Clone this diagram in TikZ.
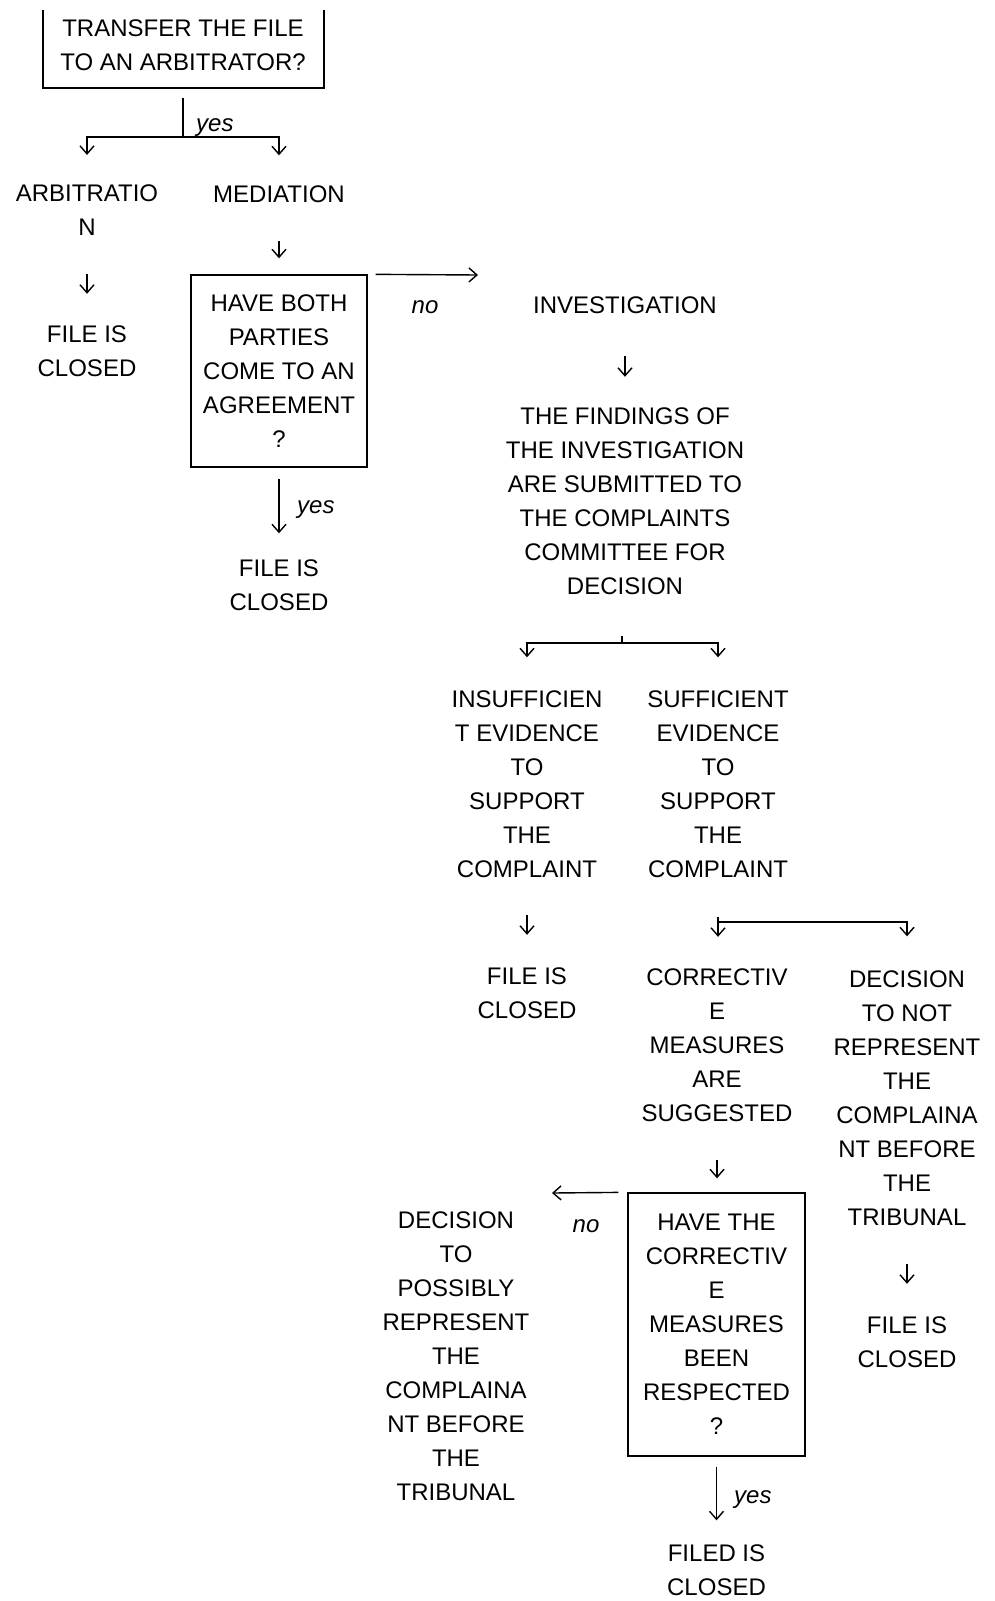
\documentclass[tikz,border=0pt]{standalone}
\usepackage{fontspec}
\setmainfont{Liberation Sans}
\usetikzlibrary{arrows.meta,calc}
\begin{document}
\begin{tikzpicture}[x=1pt,y=-1pt,
  txt/.style={inner sep=0pt, align=center, font=\fontsize{24}{34}\selectfont},
  lbl/.style={inner sep=0pt, font=\fontsize{24}{34}\selectfont\itshape},
  boxq/.style={txt, draw, line width=1.4pt},
  boxline/.style={line width=1.4pt},
  plain/.style={line width=1.4pt},
  arr/.style={line width=1.4pt, -{Straight Barb[length=8pt,width=14pt]}},
]
\useasboundingbox (0,0) rectangle (994,1601);

% top question (box top is outside the scan)
\node[txt] (q1) at (183,45) {TRANSFER THE FILE\\TO AN ARBITRATOR?};
\draw[boxline] (43,10) |- (324,88) -- (324,10);

\node[txt] (arb) at (87,210.5) {ARBITRATIO\\N};
\node[txt] (med) at (279,194) {MEDIATION};
\coordinate (j1) at (183,137);
\draw[plain, shorten <=27pt] (q1.south) -- (j1);
\draw[arr, shorten >=30pt] (j1) -| (arb.north);
\draw[arr, shorten >=30pt] (j1) -| (med.north);
\node[lbl, anchor=base west] (yes1) at (196,131) {yes};

\node[txt] (fc1) at (87,351.5) {FILE IS\\CLOSED};
\draw[arr, shorten <=38pt, shorten >=32pt] (arb.south) -- (fc1.north);

\node[boxq, minimum width=176pt, minimum height=192pt] (q2) at (279,371) {HAVE BOTH\\PARTIES\\COME TO AN\\AGREEMENT\\?};
\draw[arr, shorten <=47pt, shorten >=16pt] (med.center) -- (q2.north);

\coordinate (e1) at (478,275);
\draw[arr, shorten <=8pt] (q2.north east) -- (e1);
\node[lbl, anchor=base] (no1) at (425,313) {no};

\node[txt] (fc1b) at (279,585) {FILE IS\\CLOSED};
\draw[arr, shorten <=11pt, shorten >=26pt] (q2.south) -- (fc1b.north);
\node[lbl, anchor=base west] (yes2) at (297,513) {yes};

\node[txt] (inv) at (625,305) {INVESTIGATION};
\node[txt] (find) at (625,501.5) {THE FINDINGS OF\\THE INVESTIGATION\\ARE SUBMITTED TO\\THE COMPLAINTS\\COMMITTEE FOR\\DECISION};
\draw[arr, shorten <=51pt, shorten >=31pt] (inv.center) -- (find.north);

\node[txt] (ins) at (527,784) {INSUFFICIEN\\T EVIDENCE\\TO\\SUPPORT\\THE\\COMPLAINT};
\node[txt] (suf) at (718,784) {SUFFICIENT\\EVIDENCE\\TO\\SUPPORT\\THE\\COMPLAINT};
\coordinate (j2) at (622,643);
\draw[plain, shorten <=41pt] (find.south -| j2) -- (j2);
\draw[arr, shorten >=33pt] (j2) -| (ins.north);
\draw[arr, shorten >=33pt] (j2) -| (suf.north);

\node[txt] (fc2) at (527,993.5) {FILE IS\\CLOSED};
\draw[arr, shorten <=37pt, shorten >=33pt] (ins.south) -- (fc2.north);

\node[txt] (corr) at (717,1045.5) {CORRECTIV\\E\\MEASURES\\ARE\\SUGGESTED};
\node[txt] (dec1) at (907,1098) {DECISION\\TO NOT\\REPRESENT\\THE\\COMPLAINA\\NT BEFORE\\THE\\TRIBUNAL};
\coordinate (j3) at (718,922);
\draw[arr, shorten <=39pt, shorten >=32pt] (suf.south) -- (suf.south |- corr.north);
\draw[arr, shorten >=34pt] (j3) -| (dec1.north);

\node[txt] (fc3) at (907,1342.5) {FILE IS\\CLOSED};
\draw[arr, shorten <=38pt, shorten >=33pt] (dec1.south) -- (fc3.north);

\node[boxq, minimum width=177pt, minimum height=263pt] (q3) at (716.5,1324.5) {HAVE THE\\CORRECTIV\\E\\MEASURES\\BEEN\\RESPECTED\\?};
\draw[arr, shorten <=38pt, shorten >=14pt] (corr.south) -- (corr.south |- q3.north);

\coordinate (e2) at (552,1193);
\draw[arr, shorten <=9pt] (q3.north west) -- (e2);
\node[lbl, anchor=base] (no2) at (586,1232) {no};

\node[txt] (dec2) at (456,1356) {DECISION\\TO\\POSSIBLY\\REPRESENT\\THE\\COMPLAINA\\NT BEFORE\\THE\\TRIBUNAL};

\node[txt] (fc4) at (716.5,1570) {FILED IS\\CLOSED};
\draw[arr, shorten <=10pt, shorten >=24pt] (q3.south) -- (fc4.north);
\node[lbl, anchor=base west] (yes3) at (734,1503) {yes};
\end{tikzpicture}
\end{document}
